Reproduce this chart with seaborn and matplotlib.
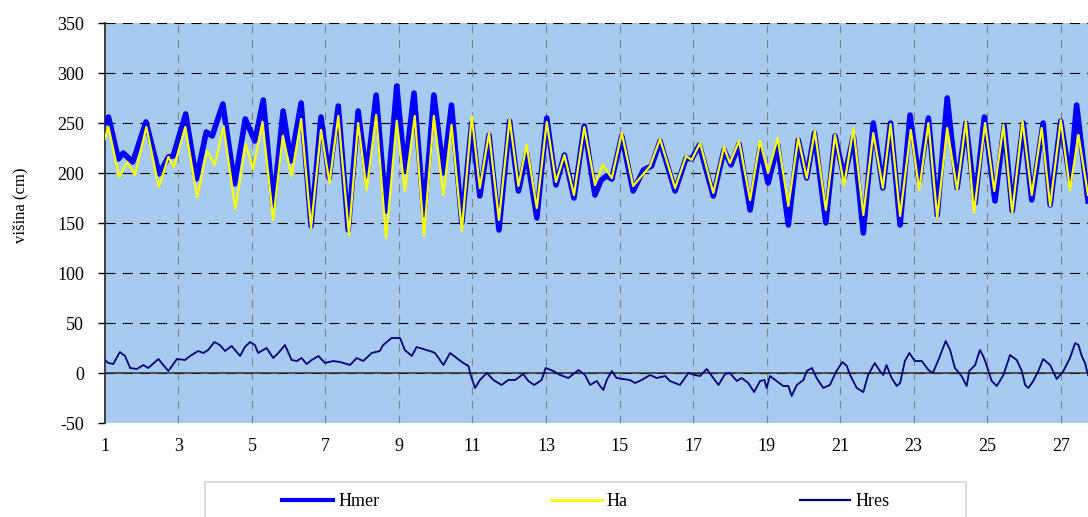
import matplotlib
matplotlib.use("Agg")
import matplotlib.pyplot as plt
from matplotlib.patches import Rectangle
import pandas as pd
import seaborn as sns

hmer_day = [1.00, 1.10, 1.37, 1.50, 1.76, 2.12, 2.48, 2.73, 2.86, 3.20, 3.49, 3.76, 3.92, 4.21,
            4.53, 4.82, 5.08, 5.31, 5.58, 5.85, 6.06, 6.34, 6.61, 6.88, 7.10, 7.35, 7.62, 7.89,
            8.12, 8.38, 8.65, 8.94, 9.16, 9.41, 9.68, 9.95, 10.21, 10.43, 10.71, 10.98, 11.20,
            11.45, 11.72, 12.01, 12.25, 12.47, 12.75, 13.02, 13.27, 13.50, 13.76, 14.04, 14.33,
            14.50, 14.65, 14.79, 15.06, 15.37, 15.65, 15.87, 16.10, 16.51, 16.81, 16.96, 17.17,
            17.55, 17.84, 18.03, 18.25, 18.55, 18.82, 19.04, 19.30, 19.59, 19.86, 20.09, 20.30,
            20.61, 20.86, 21.11, 21.36, 21.63, 21.90, 22.16, 22.37, 22.63, 22.90, 23.15, 23.40,
            23.64, 23.91, 24.18, 24.42, 24.67, 24.92, 25.21, 25.46, 25.68, 25.98, 26.21, 26.52,
            26.71, 27.00, 27.25, 27.43, 27.74]
hmer_cm = [250, 256, 214, 220, 211, 251, 199, 216, 217, 259, 194, 241, 237, 269,
           189, 254, 232, 273, 167, 262, 212, 270, 147, 256, 195, 267, 143, 262,
           197, 278, 162, 287, 202, 280, 158, 278, 200, 268, 150, 250, 177,
           238, 143, 252, 182, 220, 155, 255, 188, 218, 175, 247, 178,
           193, 197, 194, 237, 182, 203, 207, 232, 182, 215, 214, 228,
           177, 223, 208, 229, 163, 225, 190, 228, 148, 233, 195, 240,
           150, 237, 195, 237, 140, 250, 185, 250, 148, 258, 192, 255,
           158, 275, 185, 250, 170, 256, 172, 247, 162, 250, 173, 250,
           168, 252, 193, 268, 172]

# Ha - astronomical tide
ha_day = [1.00, 1.10, 1.39, 1.61, 1.82, 2.13, 2.47, 2.73, 2.88, 3.19, 3.51, 3.78, 3.99, 4.23,
          4.55, 4.83, 5.03, 5.29, 5.58, 5.84, 6.08, 6.34, 6.61, 6.88, 7.11, 7.35, 7.64, 7.89,
          8.12, 8.38, 8.65, 8.94, 9.16, 9.43, 9.68, 9.95, 10.21, 10.43, 10.71, 10.98, 11.20,
          11.45, 11.72, 12.01, 12.25, 12.47, 12.75, 13.02, 13.27, 13.50, 13.76, 14.04, 14.33,
          14.54, 14.79, 15.06, 15.37, 15.83, 16.10, 16.51, 16.81, 16.96, 17.19, 17.55, 17.84,
          18.00, 18.25, 18.55, 18.82, 19.04, 19.30, 19.59, 19.86, 20.09, 20.31, 20.61, 20.86,
          21.11, 21.36, 21.63, 21.90, 22.16, 22.37, 22.63, 22.92, 23.15, 23.40, 23.64, 23.91,
          24.18, 24.42, 24.64, 24.94, 25.19, 25.44, 25.68, 25.96, 26.21, 26.48, 26.71, 27.00,
          27.25, 27.48, 27.74]
ha_cm = [234, 246, 196, 211, 198, 246, 186, 216, 206, 246, 176, 222, 208, 247,
         164, 229, 204, 251, 153, 237, 197, 254, 145, 243, 190, 257, 138, 250,
         183, 258, 135, 252, 182, 257, 137, 257, 178, 248, 142, 257, 185,
         240, 153, 254, 187, 228, 165, 251, 191, 218, 178, 246, 188,
         208, 195, 240, 187, 207, 234, 185, 217, 213, 230, 180, 226,
         210, 232, 173, 232, 200, 235, 167, 235, 195, 242, 163, 238,
         188, 245, 158, 240, 185, 249, 157, 243, 183, 250, 155, 245,
         183, 252, 160, 250, 182, 248, 160, 252, 178, 245, 167, 253,
         183, 238, 178]

# Hres - residual
hres_day = [1.00, 1.10, 1.23, 1.41, 1.55, 1.69, 1.87, 2.05, 2.18, 2.46, 2.59, 2.73, 2.96, 3.18,
            3.32, 3.54, 3.68, 3.81, 3.98, 4.13, 4.27, 4.45, 4.68, 4.81, 4.95, 5.08, 5.17, 5.40,
            5.58, 5.72, 5.90, 6.08, 6.22, 6.35, 6.49, 6.63, 6.81, 6.99, 7.21, 7.40, 7.67, 7.85,
            8.03, 8.26, 8.48, 8.57, 8.80, 9.03, 9.16, 9.35, 9.48, 9.66, 9.84, 9.98, 10.21, 10.39,
            10.57, 10.75, 10.89, 10.95, 11.07, 11.20, 11.39, 11.57, 11.79, 11.97, 12.16, 12.38,
            12.52, 12.68, 12.88, 12.99, 13.20, 13.38, 13.61, 13.88, 14.06, 14.20, 14.38, 14.47,
            14.56, 14.65, 14.79, 14.92, 15.10, 15.28, 15.42, 15.60, 15.83, 16.01, 16.24, 16.37,
            16.64, 16.87, 17.05, 17.19, 17.37, 17.51, 17.69, 17.87, 18.00, 18.19, 18.32, 18.50,
            18.66, 18.82, 18.94, 19.00, 19.09, 19.27, 19.45, 19.59, 19.68, 19.82, 20.00, 20.09,
            20.23, 20.36, 20.54, 20.72, 20.90, 21.06, 21.18, 21.27, 21.45, 21.63, 21.76, 21.94,
            22.08, 22.17, 22.26, 22.40, 22.54, 22.63, 22.76, 22.88, 23.03, 23.22, 23.40, 23.52,
            23.67, 23.87, 23.99, 24.12, 24.30, 24.44, 24.51, 24.67, 24.80, 24.89, 24.98, 25.12,
            25.26, 25.44, 25.62, 25.80, 25.94, 26.03, 26.12, 26.25, 26.39, 26.52, 26.71, 26.89,
            27.07, 27.25, 27.39, 27.48, 27.57, 27.66, 27.74]
hres_cm = [13, 10, 9, 21, 17, 5, 4, 8, 5, 14, 8, 2, 14, 13,
           17, 22, 20, 23, 31, 28, 22, 27, 17, 26, 31, 28, 20, 25,
           15, 20, 28, 13, 12, 15, 9, 13, 17, 10, 12, 11, 8, 15,
           12, 20, 22, 28, 35, 35, 23, 17, 26, 24, 22, 20, 8, 20,
           15, 10, 7, -2, -15, -7, 0, -7, -12, -7, -7, -1,
           -8, -12, -7, 5, 2, -2, -5, 3, -2, -12, -8, -13,
           -17, -7, 2, -5, -6, -7, -10, -7, -2, -5, -3, -8,
           -12, 0, -2, -3, 4, -3, -12, -1, 0, -8, -5, -10,
           -19, -8, -7, -15, -3, -8, -13, -13, -23, -12, -7, 2,
           5, -5, -15, -12, 2, 11, 7, -2, -15, -19, -2, 10,
           2, -2, 8, -5, -13, -10, 12, 20, 12, 12, 3, 0,
           13, 32, 23, 5, -3, -13, 2, 8, 23, 17, 8, -8,
           -13, -2, 18, 13, 2, -12, -15, -8, 2, 14, 8, -6,
           2, 15, 30, 28, 17, 10, -2]

x_ticks = list(range(1, 28, 2))
y_ticks = list(range(-50, 351, 50))

hmer = pd.DataFrame({"dan": hmer_day, "cm": hmer_cm})
ha = pd.DataFrame({"dan": ha_day, "cm": ha_cm})
hres = pd.DataFrame({"dan": hres_day, "cm": hres_cm})

plt.rcParams["font.family"] = ["Liberation Serif", "DejaVu Serif"]
plt.rcParams["axes.unicode_minus"] = False

W, H = 1088, 517
fig = plt.figure(figsize=(W / 100, H / 100), dpi=100)
ax = fig.add_axes([104.8 / W, 1 - 423 / H, 1 - 104.8 / W, 400 / H])
ax.set_facecolor("#A6CAF0")

# grid
for y in y_ticks[1:]:
    ax.axhline(y, color="black", lw=0.8, dashes=(9, 6.5), zorder=1)
for x in x_ticks[1:]:
    ax.axvline(x, color="#808080", lw=0.8, dashes=(7, 6), zorder=1)
ax.axhline(0, color="#303030", lw=1.1, zorder=2)

sns.lineplot(data=hmer, x="dan", y="cm", ax=ax, color="#0000FF", lw=4,
             estimator=None, label="Hmer", solid_joinstyle="round", zorder=3)
sns.lineplot(data=ha, x="dan", y="cm", ax=ax, color="#FFFF00", lw=1.6,
             estimator=None, label="Ha", solid_joinstyle="round", zorder=4)
sns.lineplot(data=hres, x="dan", y="cm", ax=ax, color="#000080", lw=1.3,
             estimator=None, label="Hres", zorder=5)

ax.set_xlim(1, 27.74)
ax.set_ylim(-50, 350)
ax.set_xticks(x_ticks)
ax.set_yticks(y_ticks)
ax.set_xlabel("")
ax.set_ylabel("")
ax.tick_params(axis="x", length=0, pad=11, labelsize=13)
ax.tick_params(axis="y", length=5, width=1, pad=10, labelsize=13, direction="out")
for s in ["top", "right", "bottom"]:
    ax.spines[s].set_visible(False)
ax.spines["left"].set_color("#303030")
ax.spines["left"].set_linewidth(1.3)

fig.text(20 / W, 1 - 205 / H, "višina (cm)", rotation=90, ha="center", va="center", fontsize=12)

# legend box (cut by the bottom edge like the original)
handles, labels = ax.get_legend_handles_labels()
ax.get_legend().remove()
fig.patches.append(Rectangle((205 / W, -0.05), 761 / W, 0.05 + 1 - 482 / H,
                             transform=fig.transFigure, facecolor="white",
                             edgecolor="#D4D4D4", lw=1.2, zorder=0))
leg = fig.legend(handles, labels, loc="center", bbox_to_anchor=(586 / W, 1 - 502 / H),
                 ncol=3, frameon=False, fontsize=13, handlelength=2.8,
                 handletextpad=0.3, columnspacing=9.5)
leg.get_lines()[0].set_linewidth(3)
leg.get_lines()[1].set_linewidth(2)
leg.get_lines()[2].set_linewidth(1.6)

fig.savefig("out.png", dpi=100)
